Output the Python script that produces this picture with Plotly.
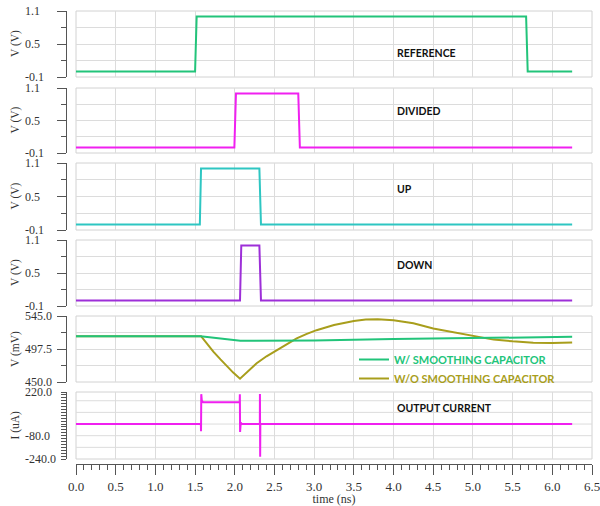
import plotly.graph_objects as go

W, H = 600, 506

# ---- waveform data (time in ns) ----
ref_t = [0.0, 1.50, 1.52, 5.67, 5.69, 6.25]
ref_v = [0.0, 0.0, 1.0, 1.0, 0.0, 0.0]

div_t = [0.0, 1.995, 2.015, 2.80, 2.82, 6.25]
div_v = [0.0, 0.0, 1.0, 1.0, 0.0, 0.0]

up_t = [0.0, 1.560, 1.575, 2.31, 2.33, 6.25]
up_v = [0.0, 0.0, 1.0, 1.0, 0.0, 0.0]

dn_t = [0.0, 2.066, 2.082, 2.31, 2.33, 6.25]
dn_v = [0.0, 0.0, 1.0, 1.0, 0.0, 0.0]

# control voltage (mV)
with_cap_t = [0.0, 1.57, 2.07, 2.5, 3.0, 4.0, 5.0, 6.25]
with_cap_v = [516.0, 516.0, 509.3, 509.3, 509.6, 511.8, 513.6, 515.0]

without_cap_t = [0.0, 1.575, 1.65, 1.73, 1.82, 1.90, 1.98, 2.066, 2.15, 2.276,
                 2.40, 2.53, 2.65, 2.78, 2.90, 3.03, 3.25, 3.5, 3.65, 3.8,
                 4.0, 4.25, 4.5, 4.75, 5.0, 5.26, 5.5, 5.76, 6.0, 6.25]
without_cap_v = [516.0, 516.0, 505.3, 493.7, 482.5, 472.3, 463.5, 454.7, 463.5, 477.0,
                 487.0, 496.0, 505.0, 512.8, 519.0, 524.6, 532.0, 537.9, 539.8, 540.5,
                 539.0, 534.5, 527.0, 521.5, 516.0, 511.0, 508.5, 506.5, 506.0, 507.0]

# charge-pump output current (uA)
cur_t = [0.0, 1.573, 1.575, 1.578, 1.585, 1.60, 2.062, 2.064, 2.067, 2.075, 2.09,
         2.316, 2.317, 2.320, 2.322, 6.25]
cur_v = [0.0, 0.0, -50.0, 205.0, 160.0, 150.0, 150.0, 205.0, -55.0, 10.0, 0.0,
         0.0, 206.0, -225.0, 0.0, 0.0]

panel_labels = ["REFERENCE", "DIVIDED", "UP", "DOWN", None, "OUTPUT CURRENT"]
y_titles = ["V (V)", "V (V)", "V (V)", "V (V)", "V (mV)", "I (uA)"]

# labelled y ticks per panel
volt_ticks = [-0.1, 0.5, 1.1]
volt_ticktext = ["-0.1", "0.5", "1.1"]
mv_ticks = [450.0, 497.5, 545.0]
mv_ticktext = ["450.0", "497.5", "545.0"]
ua_ticks = [-240.0, -80.0, 220.0]
ua_ticktext = ["-240.0", "-80.0", "220.0"]

# ---- colours ----
C_REF = "#22c47a"
C_DIV = "#f020f0"
C_UP = "#2ec6c2"
C_DN = "#9d2fd8"
C_WITH = "#22c47a"
C_WITHOUT = "#a89e1c"
C_CUR = "#f020f0"

GRID = "#dcdcdc"
AXIS = "#555555"
SERIF = "Liberation Serif"
SANS = "Lato"

# panel vertical extents in pixels (top, bottom)
panels_px = [(11, 77), (88, 153), (163, 230), (240, 306), (316, 382), (392, 459)]
X0_PX, X1_PX = 76, 592
YAXIS_PX = 66
XAXIS_PX = 464
YLABEL_PX = 23


def py(p):
    return 1 - p / H


def px(p):
    return p / W


fig = go.Figure()

step_series = [(ref_t, ref_v, C_REF), (div_t, div_v, C_DIV),
               (up_t, up_v, C_UP), (dn_t, dn_v, C_DN)]
for i, (t, v, c) in enumerate(step_series, start=1):
    fig.add_trace(go.Scatter(x=t, y=v, mode="lines", line=dict(color=c, width=2),
                             xaxis=f"x{i}", yaxis=f"y{i}", showlegend=False,
                             hoverinfo="skip"))

fig.add_trace(go.Scatter(
    x=without_cap_t, y=without_cap_v, mode="lines",
    line=dict(color=C_WITHOUT, width=2), xaxis="x5", yaxis="y5",
    name=f'<b><span style="color:{C_WITHOUT}">W/O SMOOTHING CAPACITOR</span></b>'))
fig.add_trace(go.Scatter(
    x=with_cap_t, y=with_cap_v, mode="lines",
    line=dict(color=C_WITH, width=2), xaxis="x5", yaxis="y5",
    name=f'<b><span style="color:{C_WITH}">W/ SMOOTHING CAPACITOR</span></b>'))

fig.add_trace(go.Scatter(x=cur_t, y=cur_v, mode="lines", line=dict(color=C_CUR, width=2),
                         xaxis="x6", yaxis="y6", showlegend=False, hoverinfo="skip"))

layout = dict(
    width=W, height=H, autosize=False,
    margin=dict(l=0, r=0, t=0, b=0, autoexpand=False),
    paper_bgcolor="white", plot_bgcolor="white",
    legend=dict(x=px(354), y=py(345), xanchor="left", yanchor="top",
                traceorder="reversed", bgcolor="rgba(0,0,0,0)",
                font=dict(family=SANS, size=11), itemwidth=30,
                tracegroupgap=0),
    shapes=[], annotations=[],
)

volt_axis = dict(range=[-0.1, 1.1], tickvals=volt_ticks, ticktext=volt_ticktext,
                 ticklen=9,
                 minor=dict(tickvals=[0.2, 0.8], ticklen=5, ticks="outside",
                            tickcolor=AXIS, showgrid=True, gridcolor=GRID))
axis_specs = [volt_axis, volt_axis, volt_axis, volt_axis,
              dict(range=[450, 545], tickvals=mv_ticks, ticktext=mv_ticktext,
                   ticklen=9,
                   minor=dict(tickvals=[473.75, 521.25], ticklen=5, ticks="outside",
                              tickcolor=AXIS, showgrid=True, gridcolor=GRID)),
              dict(range=[-240, 220], tickvals=ua_ticks, ticktext=ua_ticktext,
                   ticklen=5, nogrid=True,
                   minor=dict(tickvals=list(range(-240, 221, 20)), ticklen=5,
                              ticks="outside", tickcolor=AXIS, showgrid=False),
                   grid=[-160, -80, 0, 80, 160])]

for i, ((top, bot), spec, ytitle) in enumerate(zip(panels_px, axis_specs, y_titles), start=1):
    xr = "x" if i == 1 else f"x{i}"
    yr = "y" if i == 1 else f"y{i}"
    layout[f"xaxis{i}"] = dict(
        domain=[px(X0_PX), px(X1_PX)], range=[0, 6.5], anchor=yr, automargin=False,
        showticklabels=False, ticks="", showgrid=True, gridcolor=GRID,
        tick0=0, dtick=0.5, zeroline=False, showline=False)
    layout[f"yaxis{i}"] = dict(
        domain=[py(bot), py(top)], range=spec["range"], anchor="free",
        position=px(YAXIS_PX), automargin=False,
        showline=True, linecolor=AXIS, linewidth=1.3,
        ticks="outside", ticklen=spec["ticklen"], tickcolor=AXIS, tickwidth=1,
        tickmode="array", tickvals=spec["tickvals"], showticklabels=False,
        showgrid=not spec.get("nogrid", False), gridcolor=GRID, zeroline=False,
        minor=spec["minor"])
    layout["shapes"].append(dict(type="rect", xref=f"{xr} domain", yref=f"{yr} domain",
                                 x0=0, x1=1, y0=0, y1=1, layer="below",
                                 line=dict(color="#d2d2d2", width=1)))
    # extra horizontal grid lines (current panel)
    for g in spec.get("grid", []):
        layout["shapes"].append(dict(type="line", xref=f"{xr} domain", yref=yr,
                                     x0=0, x1=1, y0=g, y1=g, layer="below",
                                     line=dict(color=GRID, width=1)))
    # left-aligned tick labels
    for v, txt in zip(spec["tickvals"], spec["ticktext"]):
        layout["annotations"].append(dict(
            text=txt, xref="paper", yref=yr, x=px(YLABEL_PX), y=v,
            xanchor="left", yanchor="middle", showarrow=False,
            font=dict(family=SERIF, size=12, color="#333")))
    # rotated axis title, centred on the panel
    layout["annotations"].append(dict(
        text=ytitle, xref="paper", yref=f"{yr} domain", x=px(15), y=0.5,
        xanchor="center", yanchor="middle", textangle=-90, showarrow=False,
        font=dict(family=SERIF, size=11.5, color="#333")))

# shared time axis below the stack
layout["xaxis7"] = dict(
    domain=[px(X0_PX), px(X1_PX)], range=[0, 6.5], overlaying="x6",
    anchor="free", position=py(XAXIS_PX), automargin=False,
    showline=True, linecolor=AXIS,
    linewidth=1.3, ticks="outside", ticklen=10, tickcolor=AXIS, tickwidth=1,
    tick0=0, dtick=0.5, tickformat=".1f", showgrid=False, zeroline=False,
    ticklabeloverflow="allow",
    tickfont=dict(family=SERIF, size=13, color="#333"),
    minor=dict(dtick=0.1, ticklen=5, ticks="outside", tickcolor=AXIS, showgrid=False),
    title=dict(text="time (ns)", font=dict(family=SERIF, size=12, color="#333"),
               standoff=2))

label_y = [53, 111, 189, 265, None, 408]
for text, ly in zip(panel_labels, label_y):
    if text is None:
        continue
    layout["annotations"].append(dict(
        text=f"<b>{text}</b>", xref="paper", yref="paper", x=px(395), y=py(ly),
        xanchor="left", yanchor="middle", showarrow=False,
        font=dict(family=SANS, size=10.5, color="#111")))

fig.update_layout(**layout)
fig.add_trace(go.Scatter(x=[None], y=[None], xaxis="x7", yaxis="y6",
                         showlegend=False, hoverinfo="skip"))

fig.write_html("out.html")
